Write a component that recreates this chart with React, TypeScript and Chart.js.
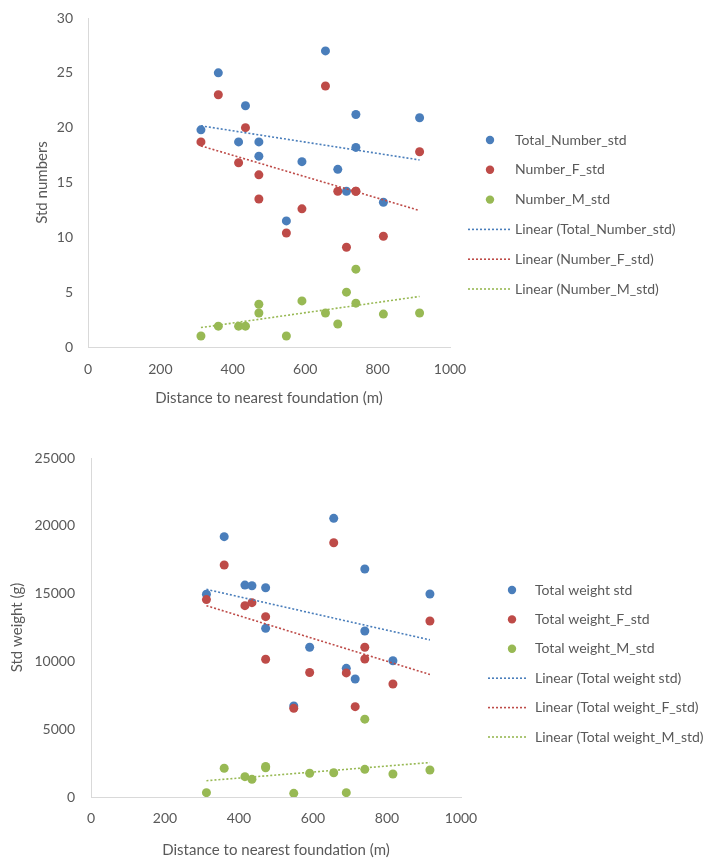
import React, { useEffect, useRef } from 'react';
import { Chart, registerables } from 'chart.js';

Chart.register(...registerables);

// ---------- data ----------
const distance = [312, 360, 416, 435, 472, 472, 548, 591, 656, 690, 714, 740, 740, 816, 916];

const totalNumberStd = [19.8, 25.0, 18.7, 22.0, 18.7, 17.4, 11.5, 16.9, 27.0, 16.2, 14.2, 21.2, 18.2, 13.2, 20.9];
const numberFStd = [18.7, 23.0, 16.8, 20.0, 15.7, 13.5, 10.4, 12.6, 23.8, 14.2, 9.1, 14.2, 14.2, 10.1, 17.8];
const numberMStd = [1.0, 1.9, 1.9, 1.9, 3.1, 3.9, 1.0, 4.2, 3.1, 2.1, 5.0, 7.1, 4.0, 3.0, 3.1];

const totalWeightStd = [14950, 19200, 15630, 15580, 15430, 12440, 6710, 11040, 20550, 9490, 8700, 16810, 12240, 10050, 14970];
const weightFStd = [14560, 17110, 14110, 14330, 13300, 10160, 6540, 9180, 18750, 9150, 6660, 11040, 10180, 8330, 12980];
const weightMStd = [320, 2120, 1500, 1300, 2160, 2250, 270, 1750, 1790, 320, null, 5740, 2040, 1700, 1990];

const numberLabels = ['Total_Number_std', 'Number_F_std', 'Number_M_std'];
const weightLabels = ['Total weight std', 'Total weight_F_std', 'Total weight_M_std'];

const xTitle = 'Distance to nearest foundation (m)';
const yTitleNumbers = 'Std numbers';
const yTitleWeight = 'Std weight (g)';

// ---------- style ----------
const FONT = "Lato, 'Open Sans', sans-serif";
const TEXT = '#595959';
const AXIS = '#d9d9d9';
const COLORS = ['#4a7ebb', '#be4b48', '#98b954'];

function trend(xs: number[], ys: (number | null)[]) {
  const pts = xs.map((x, i) => [x, ys[i]] as [number, number | null]).filter((p) => p[1] != null) as [number, number][];
  const n = pts.length;
  const mx = pts.reduce((s, p) => s + p[0], 0) / n;
  const my = pts.reduce((s, p) => s + p[1], 0) / n;
  let sxy = 0;
  let sxx = 0;
  pts.forEach(([x, y]) => {
    sxy += (x - mx) * (y - my);
    sxx += (x - mx) * (x - mx);
  });
  const b = sxy / sxx;
  const a = my - b * mx;
  const xmin = Math.min(...pts.map((p) => p[0]));
  const xmax = Math.max(...pts.map((p) => p[0]));
  return [
    { x: xmin, y: a + b * xmin },
    { x: xmax, y: a + b * xmax },
  ];
}

const sideLegend = {
  id: 'sideLegend',
  afterDraw(chart: any, _args: any, opts: any) {
    const ctx = chart.ctx;
    ctx.save();
    ctx.font = `${opts.fontSize}px ${FONT}`;
    ctx.textBaseline = 'middle';
    ctx.textAlign = 'left';
    chart.data.datasets.forEach((ds: any, i: number) => {
      const y = opts.y0 + i * opts.dy;
      if (ds.type === 'line') {
        ctx.strokeStyle = ds.borderColor;
        ctx.lineWidth = ds.borderWidth;
        ctx.setLineDash(ds.borderDash || []);
        ctx.beginPath();
        ctx.moveTo(opts.lineX0, y);
        ctx.lineTo(opts.lineX1, y);
        ctx.stroke();
        ctx.setLineDash([]);
      } else {
        ctx.fillStyle = ds.backgroundColor;
        ctx.beginPath();
        ctx.arc(opts.markerX, y, opts.markerR, 0, Math.PI * 2);
        ctx.fill();
      }
      ctx.fillStyle = TEXT;
      ctx.fillText(ds.label, opts.textX, y);
    });
    ctx.restore();
  },
};

function buildConfig(p: any) {
  const series = p.series.map((ys: (number | null)[], i: number) => ({
    type: 'scatter',
    label: p.labels[i],
    data: distance.map((x, k) => ({ x, y: ys[k] })).filter((d) => d.y != null),
    backgroundColor: COLORS[i],
    borderColor: COLORS[i],
    borderWidth: 0,
    pointRadius: 4.5,
    pointHoverRadius: 4.5,
    order: 3 - i,
  }));
  const trends = p.series.map((ys: (number | null)[], i: number) => ({
    type: 'line',
    label: `Linear (${p.labels[i]})`,
    data: trend(distance, ys),
    borderColor: COLORS[i],
    backgroundColor: COLORS[i],
    borderWidth: 1.6,
    borderDash: [2, 2],
    pointRadius: 0,
    fill: false,
    tension: 0,
    order: 0,
  }));
  return {
    type: 'scatter',
    data: { datasets: [...series, ...trends] },
    options: {
      responsive: false,
      animation: false,
      events: [],
      layout: { padding: p.padding },
      plugins: {
        legend: { display: false },
        tooltip: { enabled: false },
        sideLegend: p.legend,
      },
      scales: {
        x: {
          type: 'linear',
          min: 0,
          max: 1000,
          grid: { display: false, drawTicks: false },
          border: { color: AXIS, width: 1 },
          ticks: {
            stepSize: 200,
            padding: p.xTickPad,
            color: TEXT,
            font: { family: FONT, size: 14 },
            callback: (v: number) => String(v),
          },
          title: {
            display: true,
            text: xTitle,
            color: TEXT,
            font: { family: FONT, size: 15 },
            padding: { top: 0, bottom: 0 },
          },
          afterFit: (s: any) => {
            s.height = p.xHeight;
            s.paddingLeft = 0;
            s.paddingRight = 0;
          },
        },
        y: {
          type: 'linear',
          min: 0,
          max: p.yMax,
          grid: { display: false, drawTicks: false },
          border: { color: AXIS, width: 1 },
          ticks: {
            stepSize: p.yStep,
            padding: p.yTickPad,
            color: TEXT,
            font: { family: FONT, size: 14 },
            callback: (v: number) => String(v),
          },
          title: {
            display: true,
            text: p.yTitle,
            color: TEXT,
            font: { family: FONT, size: 15 },
            padding: { top: p.yTitlePad, bottom: 0 },
          },
          afterFit: (s: any) => {
            s.width = p.yWidth;
            s.paddingTop = 0;
            s.paddingBottom = 0;
          },
        },
      },
    },
    plugins: [sideLegend],
  };
}

function ChartCanvas({ config, top, height }: { config: any; top: number; height: number }) {
  const ref = useRef<HTMLCanvasElement | null>(null);
  useEffect(() => {
    const chart = new Chart(ref.current as HTMLCanvasElement, config);
    return () => chart.destroy();
  }, []);
  return (
    <canvas
      ref={ref}
      width={728}
      height={height}
      style={{ position: 'absolute', left: 0, top, width: 728, height, display: 'block' }}
    />
  );
}

const numbersConfig = buildConfig({
  series: [totalNumberStd, numberFStd, numberMStd],
  labels: numberLabels,
  yTitle: yTitleNumbers,
  yMax: 30,
  yStep: 5,
  padding: { left: 0, top: 18, right: 278, bottom: 23 },
  yWidth: 88,
  yTickPad: 15,
  yTitlePad: 33,
  xHeight: 60,
  xTickPad: 14.5,
  legend: { fontSize: 14, markerX: 490, markerR: 4.2, lineX0: 468, lineX1: 510, textX: 515, y0: 140, dy: 29.8 },
});

const weightConfig = buildConfig({
  series: [totalWeightStd, weightFStd, weightMStd],
  labels: weightLabels,
  yTitle: yTitleWeight,
  yMax: 25000,
  yStep: 5000,
  padding: { left: 0, top: 28, right: 267, bottom: 2 },
  yWidth: 91,
  yTickPad: 16,
  yTitlePad: 8,
  xHeight: 62,
  xTickPad: 12.6,
  legend: { fontSize: 14, markerX: 512, markerR: 4.2, lineX0: 488, lineX1: 528, textX: 535, y0: 160, dy: 29.4 },
});

export default function App() {
  return (
    <div style={{ position: 'absolute', left: 0, top: 0, width: 728, height: 861, background: '#ffffff', overflow: 'hidden' }}>
      <ChartCanvas config={numbersConfig} top={0} height={430} />
      <ChartCanvas config={weightConfig} top={430} height={431} />
    </div>
  );
}
